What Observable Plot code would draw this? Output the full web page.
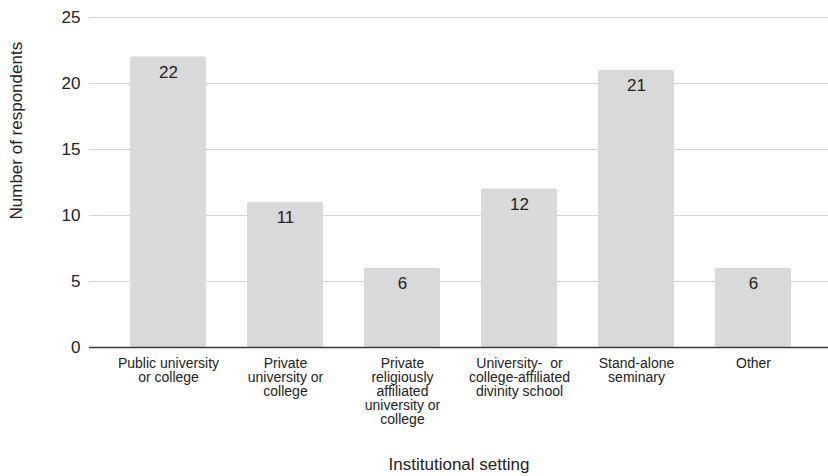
<!DOCTYPE html>
<html>
<head>
<meta charset="utf-8">
<script src="https://cdn.jsdelivr.net/npm/d3@7"></script>
<script src="https://cdn.jsdelivr.net/npm/@observablehq/plot@0.6"></script>
<style>
  html, body { margin: 0; padding: 0; background: #fff; }
  #chart { width: 828px; height: 476px; }
</style>
</head>
<body>
<div id="chart"></div>
<script>
// Survey respondents by institutional setting
const categories = [
  "Public university or college",
  "Private university or college",
  "Private religiously affiliated university or college",
  "University- or college-affiliated divinity school",
  "Stand-alone seminary",
  "Other"
];
const tickLabels = [
  "Public university\nor college",
  "Private\nuniversity or\ncollege",
  "Private\nreligiously\naffiliated\nuniversity or\ncollege",
  "University-\u00a0 or\ncollege-affiliated\ndivinity school",
  "Stand-alone\nseminary",
  "Other"
];
const respondents = [22, 11, 6, 12, 21, 6];
const yTicks = [0, 5, 10, 15, 20, 25];
const xTitle = "Institutional setting";
const yTitle = "Number of respondents";

const rows = categories.map((c, i) => ({category: c, label: tickLabels[i], count: respondents[i]}));
const font = "'Liberation Sans', Arial, Helvetica, sans-serif";

const chart = Plot.plot({
  width: 828,
  height: 476,
  marginTop: 17,
  marginBottom: 129,
  marginLeft: 89,
  marginRight: 0,
  style: {fontFamily: font, color: "#222", background: "#fff"},
  x: {domain: categories, paddingInner: 0.35, paddingOuter: 0.175, insetLeft: 20, insetRight: 15, axis: null},
  y: {domain: [0, 25], axis: null},
  marks: [
    Plot.gridY(yTicks.filter(t => t > 0), {stroke: "#d4d4d4", strokeOpacity: 1, strokeWidth: 1}),
    Plot.axisY(yTicks, {tickSize: 0, tickPadding: 9, fontSize: 17, fill: "#222", label: null}),
    Plot.barY(rows, {x: "category", y: "count", fill: "#d9d9d9", rx: 2}),
    Plot.ruleY([0], {stroke: "#3a3a3a", strokeWidth: 1.5}),
    Plot.text(rows, {x: "category", y: "count", text: d => String(d.count), lineAnchor: "top", dy: 9, fontSize: 17, fill: "#222"}),
    Plot.text(rows, {x: "category", text: "label", frameAnchor: "bottom", lineAnchor: "top", dy: 11, fontSize: 14, lineHeight: 1.0, fill: "#222"}),
    Plot.text([xTitle], {text: d => d, frameAnchor: "bottom", lineAnchor: "top", dy: 110, fontSize: 17, fill: "#222"}),
    Plot.text([yTitle], {text: d => d, frameAnchor: "left", rotate: -90, dx: -73, dy: 37, fontSize: 17, fill: "#222"})
  ]
});
document.getElementById("chart").appendChild(chart);
</script>
</body>
</html>
